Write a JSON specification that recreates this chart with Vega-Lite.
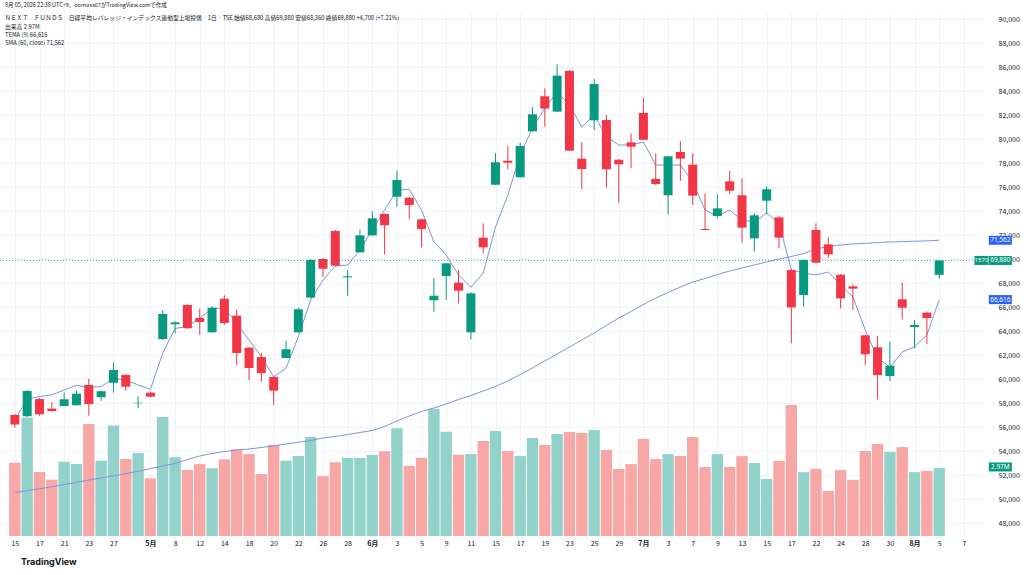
{
  "$schema": "https://vega.github.io/schema/vega-lite/v6.json",
  "description": "NEXT FUNDS 日経平均レバレッジ 1日足 ローソク足 + 出来高 + TEMA(9) + SMA(60)",
  "width": 985,
  "height": 526,
  "autosize": {"type": "none"},
  "padding": {"left": 0, "top": 10, "right": 39, "bottom": 39},
  "background": "white",
  "title": {
    "text": "8月 05, 2026 22:38 UTC+9、oomasa67がTradingView.comで作成",
    "subtitle": [
      "ＮＥＸＴ　ＦＵＮＤＳ　日経平均レバレッジ・インデックス連動型上場投信 · 1日 · TSE  始値68,680  高値69,880  安値68,360  終値69,880  +4,700 (+7.21%)",
      "出来高  2.97M",
      "TEMA (9)  66,616",
      "SMA (60, close)  71,562"
    ],
    "anchor": "start",
    "frame": "group",
    "orient": "top",
    "offset": -36,
    "dx": 5,
    "font": "Noto Sans CJK JP",
    "fontSize": 5.5,
    "fontWeight": "normal",
    "color": "#131722",
    "subtitleFont": "Noto Sans CJK JP",
    "subtitleFontSize": 5.8,
    "subtitleColor": "#131722",
    "subtitlePadding": 7,
    "subtitleLineHeight": 8.3
  },
  "data": {
    "values": [
      {"i": 0, "o": 57000, "h": 57100, "l": 55950, "c": 56200, "v": 3.20, "tema": 56600, "sma": 50542},
      {"i": 1, "o": 56900, "h": 59080, "l": 56850, "c": 59000, "v": 5.17, "tema": 58330, "sma": 50708},
      {"i": 2, "o": 58330, "h": 58440, "l": 56950, "c": 57060, "v": 2.79, "tema": 58540, "sma": 50850},
      {"i": 3, "o": 57530, "h": 58060, "l": 57290, "c": 57330, "v": 2.46, "tema": 58670, "sma": 51017},
      {"i": 4, "o": 57750, "h": 58860, "l": 57750, "c": 58310, "v": 3.24, "tema": 59080, "sma": 51208},
      {"i": 5, "o": 57810, "h": 59030, "l": 57800, "c": 58780, "v": 3.14, "tema": 59470, "sma": 51392},
      {"i": 6, "o": 59500, "h": 60020, "l": 56940, "c": 57920, "v": 4.89, "tema": 59310, "sma": 51583},
      {"i": 7, "o": 58480, "h": 59000, "l": 58190, "c": 58980, "v": 3.29, "tema": 59360, "sma": 51750},
      {"i": 8, "o": 59690, "h": 61390, "l": 58860, "c": 60750, "v": 4.83, "tema": 60060, "sma": 51917},
      {"i": 9, "o": 60330, "h": 60420, "l": 59030, "c": 59360, "v": 3.36, "tema": 59920, "sma": 52125},
      {"i": 10, "o": 57980, "h": 58530, "l": 57560, "c": 58020, "v": 3.62, "tema": 59500, "sma": 52292},
      {"i": 11, "o": 58860, "h": 58940, "l": 58460, "c": 58530, "v": 2.52, "tema": 59140, "sma": 52542},
      {"i": 12, "o": 63330, "h": 65750, "l": 63250, "c": 65420, "v": 5.20, "tema": 62170, "sma": 52750},
      {"i": 13, "o": 64560, "h": 64810, "l": 63810, "c": 64720, "v": 3.44, "tema": 64220, "sma": 52958},
      {"i": 14, "o": 66170, "h": 66220, "l": 64170, "c": 64230, "v": 2.88, "tema": 64360, "sma": 53292},
      {"i": 15, "o": 65080, "h": 65860, "l": 63670, "c": 64750, "v": 3.14, "tema": 65060, "sma": 53583},
      {"i": 16, "o": 63890, "h": 66080, "l": 63880, "c": 65940, "v": 2.96, "tema": 65890, "sma": 53792},
      {"i": 17, "o": 66690, "h": 66980, "l": 64530, "c": 64670, "v": 3.35, "tema": 65890, "sma": 53958},
      {"i": 18, "o": 65280, "h": 65780, "l": 61170, "c": 62170, "v": 3.79, "tema": 64640, "sma": 54083},
      {"i": 19, "o": 62610, "h": 62670, "l": 59920, "c": 60920, "v": 3.58, "tema": 63250, "sma": 54167},
      {"i": 20, "o": 61830, "h": 62190, "l": 59770, "c": 60480, "v": 2.71, "tema": 61860, "sma": 54292},
      {"i": 21, "o": 60170, "h": 60250, "l": 57830, "c": 59030, "v": 3.99, "tema": 60190, "sma": 54417},
      {"i": 22, "o": 61750, "h": 63190, "l": 61750, "c": 62480, "v": 3.29, "tema": 60890, "sma": 54583},
      {"i": 23, "o": 63890, "h": 65940, "l": 63880, "c": 65810, "v": 3.49, "tema": 63530, "sma": 54725},
      {"i": 24, "o": 66780, "h": 70000, "l": 66750, "c": 69920, "v": 4.32, "tema": 66580, "sma": 54875},
      {"i": 25, "o": 70000, "h": 70080, "l": 68530, "c": 69190, "v": 2.61, "tema": 68250, "sma": 55083},
      {"i": 26, "o": 72330, "h": 72420, "l": 69420, "c": 69440, "v": 3.22, "tema": 69420, "sma": 55208},
      {"i": 27, "o": 68470, "h": 69080, "l": 66940, "c": 68560, "v": 3.41, "tema": 69500, "sma": 55375},
      {"i": 28, "o": 70560, "h": 72470, "l": 70540, "c": 71970, "v": 3.41, "tema": 70750, "sma": 55542},
      {"i": 29, "o": 71970, "h": 73970, "l": 71950, "c": 73390, "v": 3.54, "tema": 72420, "sma": 55708},
      {"i": 30, "o": 73750, "h": 73780, "l": 70390, "c": 72810, "v": 3.70, "tema": 74080, "sma": 56042},
      {"i": 31, "o": 75190, "h": 77360, "l": 74360, "c": 76580, "v": 4.70, "tema": 75750, "sma": 56500},
      {"i": 32, "o": 75110, "h": 75170, "l": 73310, "c": 74500, "v": 3.07, "tema": 75810, "sma": 56917},
      {"i": 33, "o": 73310, "h": 73330, "l": 70970, "c": 72500, "v": 3.42, "tema": 74080, "sma": 57292},
      {"i": 34, "o": 66560, "h": 68440, "l": 65610, "c": 66940, "v": 5.56, "tema": 71440, "sma": 57583},
      {"i": 35, "o": 68580, "h": 69670, "l": 66580, "c": 69640, "v": 4.55, "tema": 70330, "sma": 57917},
      {"i": 36, "o": 68030, "h": 69080, "l": 66310, "c": 67360, "v": 3.55, "tema": 68670, "sma": 58292},
      {"i": 37, "o": 63890, "h": 67220, "l": 63310, "c": 67140, "v": 3.58, "tema": 67640, "sma": 58625},
      {"i": 38, "o": 71780, "h": 72970, "l": 70470, "c": 70970, "v": 4.15, "tema": 68810, "sma": 59000},
      {"i": 39, "o": 76190, "h": 78810, "l": 76170, "c": 78060, "v": 4.59, "tema": 72670, "sma": 59375},
      {"i": 40, "o": 78190, "h": 79420, "l": 77470, "c": 78030, "v": 3.71, "tema": 75330, "sma": 59833},
      {"i": 41, "o": 76810, "h": 79690, "l": 76790, "c": 79420, "v": 3.49, "tema": 78670, "sma": 60375},
      {"i": 42, "o": 80640, "h": 82640, "l": 80620, "c": 82060, "v": 4.28, "tema": 80920, "sma": 60917},
      {"i": 43, "o": 83560, "h": 84220, "l": 81030, "c": 82530, "v": 3.97, "tema": 82580, "sma": 61500},
      {"i": 44, "o": 82280, "h": 86220, "l": 82250, "c": 85280, "v": 4.45, "tema": 83920, "sma": 62083},
      {"i": 45, "o": 85670, "h": 85750, "l": 79010, "c": 79030, "v": 4.54, "tema": 82830, "sma": 62667},
      {"i": 46, "o": 78360, "h": 79730, "l": 75830, "c": 77500, "v": 4.50, "tema": 81000, "sma": 63250},
      {"i": 47, "o": 81560, "h": 85000, "l": 80750, "c": 84580, "v": 4.63, "tema": 82000, "sma": 63833},
      {"i": 48, "o": 81580, "h": 82000, "l": 75940, "c": 77470, "v": 3.76, "tema": 80170, "sma": 64458},
      {"i": 49, "o": 78270, "h": 78330, "l": 74690, "c": 77890, "v": 2.93, "tema": 79500, "sma": 65083},
      {"i": 50, "o": 79720, "h": 80470, "l": 77560, "c": 79360, "v": 3.14, "tema": 79500, "sma": 65625},
      {"i": 51, "o": 82170, "h": 83440, "l": 79920, "c": 79940, "v": 4.24, "tema": 79750, "sma": 66208},
      {"i": 52, "o": 76670, "h": 78810, "l": 76170, "c": 76250, "v": 3.36, "tema": 77830, "sma": 66750},
      {"i": 53, "o": 75310, "h": 78600, "l": 73720, "c": 78560, "v": 3.58, "tema": 77830, "sma": 67208},
      {"i": 54, "o": 78920, "h": 79810, "l": 76500, "c": 78360, "v": 3.49, "tema": 77830, "sma": 67667},
      {"i": 55, "o": 77860, "h": 78810, "l": 74500, "c": 75280, "v": 4.32, "tema": 76420, "sma": 68083},
      {"i": 56, "o": 72500, "h": 75470, "l": 72400, "c": 72420, "v": 3.01, "tema": 74080, "sma": 68375},
      {"i": 57, "o": 73580, "h": 75390, "l": 73390, "c": 74220, "v": 3.58, "tema": 73580, "sma": 68708},
      {"i": 58, "o": 76470, "h": 77330, "l": 75390, "c": 75690, "v": 3.01, "tema": 74080, "sma": 69000},
      {"i": 59, "o": 75310, "h": 76720, "l": 71360, "c": 72610, "v": 3.49, "tema": 73250, "sma": 69250},
      {"i": 60, "o": 71720, "h": 73810, "l": 70610, "c": 73640, "v": 3.19, "tema": 73080, "sma": 69500},
      {"i": 61, "o": 74860, "h": 76060, "l": 73750, "c": 75810, "v": 2.49, "tema": 73830, "sma": 69750},
      {"i": 62, "o": 73470, "h": 73580, "l": 70890, "c": 71780, "v": 3.28, "tema": 73000, "sma": 70000},
      {"i": 63, "o": 69080, "h": 69170, "l": 62970, "c": 65970, "v": 5.72, "tema": 69080, "sma": 70208},
      {"i": 64, "o": 67000, "h": 69950, "l": 66030, "c": 69920, "v": 2.79, "tema": 68830, "sma": 70458},
      {"i": 65, "o": 72420, "h": 72970, "l": 69660, "c": 69690, "v": 2.93, "tema": 68670, "sma": 70833},
      {"i": 66, "o": 71220, "h": 71810, "l": 70110, "c": 70390, "v": 1.97, "tema": 68920, "sma": 71042},
      {"i": 67, "o": 68690, "h": 68750, "l": 65890, "c": 66720, "v": 2.88, "tema": 67830, "sma": 71167},
      {"i": 68, "o": 67720, "h": 67890, "l": 65750, "c": 67530, "v": 2.45, "tema": 66830, "sma": 71250},
      {"i": 69, "o": 63640, "h": 63670, "l": 61170, "c": 62060, "v": 3.71, "tema": 64080, "sma": 71308},
      {"i": 70, "o": 62640, "h": 63610, "l": 58310, "c": 60330, "v": 4.02, "tema": 61750, "sma": 71367},
      {"i": 71, "o": 60250, "h": 63110, "l": 59830, "c": 61110, "v": 3.67, "tema": 61000, "sma": 71417},
      {"i": 72, "o": 66640, "h": 68030, "l": 64970, "c": 65940, "v": 3.89, "tema": 62250, "sma": 71450},
      {"i": 73, "o": 64330, "h": 64920, "l": 62560, "c": 64500, "v": 2.79, "tema": 62670, "sma": 71483},
      {"i": 74, "o": 65530, "h": 65610, "l": 62920, "c": 65080, "v": 2.84, "tema": 63670, "sma": 71508},
      {"i": 75, "o": 68680, "h": 69880, "l": 68360, "c": 69880, "v": 2.97, "tema": 66616, "sma": 71562}
    ]
  },
  "layer": [
    {
      "layer": [
        {
          "mark": {"type": "bar", "size": 11.4},
          "encoding": {
            "x": {
              "field": "i",
              "type": "quantitative",
              "scale": {"domain": [-0.8, 78.31], "nice": false, "zero": false},
              "axis": {
                "orient": "bottom",
                "title": null,
                "values": [0, 2, 4, 6, 8, 11, 13, 15, 17, 19, 21, 23, 25, 27, 29, 31, 33, 35, 37, 39, 41, 43, 45, 47, 49, 51, 53, 55, 57, 59, 61, 63, 65, 67, 69, 71, 73, 75, 77],
                "tickCount": 200,
                "labelExpr": "['15','','17','','21','','23','','27','','','5月','','8','','12','','14','','18','','20','','22','','26','','28','','6月','','3','','5','','9','','11','','15','','17','','19','','23','','25','','29','','7月','','3','','7','','9','','13','','15','','17','','22','','24','','28','','30','','8月','','5','','7'][datum.value]",
                "labelFontWeight": {"condition": {"test": "indexof([11, 29, 51, 73], datum.value) >= 0", "value": "bold"}, "value": "normal"},
                "labelPadding": 3,
                "labelFlush": false,
                "labelOverlap": false,
                "ticks": false,
                "domain": false,
                "grid": true,
                "gridColor": "#f0f3fa"
              }
            },
            "y": {
              "field": "v",
              "type": "quantitative",
              "scale": {"domain": [0, 22.97], "nice": false, "zero": true},
              "axis": null
            },
            "color": {
              "condition": {"test": "datum.c >= datum.o", "value": "#92d2ca"},
              "value": "#f7a8a6"
            }
          }
        },
        {
          "data": {"values": [{"name": "TradingView"}]},
          "mark": {"type": "text", "font": "Inter", "fontSize": 9, "fontWeight": "bold", "color": "#131722", "align": "left", "baseline": "middle", "clip": false},
          "encoding": {
            "x": {"datum": 0.5, "type": "quantitative", "axis": {"title": null, "labelOverlap": false, "tickCount": 200}},
            "y": {"datum": -1.13, "type": "quantitative", "axis": null},
            "text": {"field": "name"}
          }
        }
      ]
    },
    {
      "layer": [
        {
          "mark": {"type": "line", "color": "#7f95d4", "strokeWidth": 1, "clip": true},
          "encoding": {
            "x": {"field": "i", "type": "quantitative", "axis": {"title": null, "labelOverlap": false, "tickCount": 200}},
            "y": {
              "field": "sma",
              "type": "quantitative",
              "scale": {"domain": [46917, 90750], "nice": false, "zero": false},
              "axis": {
                "orient": "right",
                "title": null,
                "values": [48000, 50000, 52000, 54000, 56000, 58000, 60000, 62000, 64000, 66000, 68000, 70000, 72000, 74000, 76000, 78000, 80000, 82000, 84000, 86000, 88000, 90000],
                "tickCount": 200,
                "labelExpr": "format(datum.value, ',')",
                "labelOverlap": false,
                "ticks": false,
                "domain": false,
                "grid": true,
                "gridColor": "#f0f3fa",
                "labelPadding": 13,
                "labelAlign": "left"
              }
            }
          }
        },
        {
          "mark": {"type": "line", "color": "#7f95d4", "strokeWidth": 1, "clip": true},
          "encoding": {
            "x": {"field": "i", "type": "quantitative", "axis": {"title": null, "labelOverlap": false, "tickCount": 200}},
            "y": {"field": "tema", "type": "quantitative", "axis": {"title": null, "labelOverlap": false, "tickCount": 200}}
          }
        },
        {
          "mark": {"type": "rule", "strokeWidth": 1},
          "encoding": {
            "x": {"field": "i", "type": "quantitative", "axis": {"title": null, "labelOverlap": false, "tickCount": 200}},
            "y": {"field": "l", "type": "quantitative", "axis": {"title": null, "labelOverlap": false, "tickCount": 200}},
            "y2": {"field": "h"},
            "color": {
              "condition": {"test": "datum.c >= datum.o", "value": "#089981"},
              "value": "#f23645"
            }
          }
        },
        {
          "mark": {"type": "bar", "size": 9},
          "encoding": {
            "x": {"field": "i", "type": "quantitative", "axis": {"title": null, "labelOverlap": false, "tickCount": 200}},
            "y": {"field": "o", "type": "quantitative", "axis": {"title": null, "labelOverlap": false, "tickCount": 200}},
            "y2": {"field": "c"},
            "color": {
              "condition": {"test": "datum.c >= datum.o", "value": "#089981"},
              "value": "#f23645"
            }
          }
        },
        {
          "data": {"values": [{"p": 69880}]},
          "mark": {"type": "rule", "color": "#089981", "strokeWidth": 1, "strokeDash": [1, 2], "opacity": 0.7},
          "encoding": {
            "y": {"field": "p", "type": "quantitative", "axis": {"title": null, "labelOverlap": false, "tickCount": 200}}
          }
        },
        {
          "data": {"values": [
            {"p": 71562, "lbl": "71,562", "kind": "SMA"},
            {"p": 69880, "lbl": "69,880", "kind": "終値"},
            {"p": 66616, "lbl": "66,616", "kind": "TEMA"},
            {"p": 52670, "lbl": "2.97M", "kind": "出来高"}
          ]},
          "layer": [
            {
              "mark": {"type": "tick", "orient": "horizontal", "size": 23, "thickness": 9, "opacity": 1, "clip": false},
              "encoding": {
                "x": {"datum": 79.96, "type": "quantitative", "axis": {"title": null, "labelOverlap": false, "tickCount": 200}},
                "y": {"field": "p", "type": "quantitative", "axis": {"title": null, "labelOverlap": false, "tickCount": 200}},
                "color": {
                  "field": "kind",
                  "type": "nominal",
                  "scale": {"domain": ["SMA", "終値", "TEMA", "出来高"], "range": ["#2962ff", "#089981", "#2962ff", "#089981"]},
                  "legend": null
                }
              }
            },
            {
              "mark": {"type": "text", "color": "white", "fontSize": 6.5, "font": "Noto Sans", "align": "center", "baseline": "middle", "clip": false},
              "encoding": {
                "x": {"datum": 79.96, "type": "quantitative", "axis": {"title": null, "labelOverlap": false, "tickCount": 200}},
                "y": {"field": "p", "type": "quantitative", "axis": {"title": null, "labelOverlap": false, "tickCount": 200}},
                "text": {"field": "lbl"}
              }
            }
          ]
        },
        {
          "data": {"values": [{"p": 69880, "lbl": "1570"}]},
          "layer": [
            {
              "mark": {"type": "tick", "orient": "horizontal", "size": 14, "thickness": 9, "color": "#089981", "opacity": 1, "clip": false},
              "encoding": {
                "x": {"datum": 78.43, "type": "quantitative", "axis": {"title": null, "labelOverlap": false, "tickCount": 200}},
                "y": {"field": "p", "type": "quantitative", "axis": {"title": null, "labelOverlap": false, "tickCount": 200}}
              }
            },
            {
              "mark": {"type": "text", "color": "white", "fontSize": 6, "font": "Noto Sans", "align": "center", "baseline": "middle", "clip": false},
              "encoding": {
                "x": {"datum": 78.43, "type": "quantitative", "axis": {"title": null, "labelOverlap": false, "tickCount": 200}},
                "y": {"field": "p", "type": "quantitative", "axis": {"title": null, "labelOverlap": false, "tickCount": 200}},
                "text": {"field": "lbl"}
              }
            }
          ]
        }
      ]
    }
  ],
  "resolve": {"scale": {"y": "independent"}},
  "config": {
    "view": {"stroke": null},
    "axis": {
      "labelFont": "Noto Sans CJK JP",
      "labelFontSize": 7,
      "labelColor": "#131722",
      "labelOverlap": false,
      "tickCount": 200
    }
  }
}
